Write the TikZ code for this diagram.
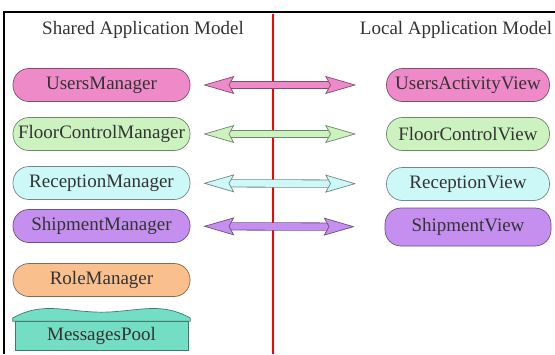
\documentclass[tikz,border=0pt]{standalone}
\usepackage{fontspec}
\setmainfont{Liberation Serif}
\usetikzlibrary{arrows.meta}
\usetikzlibrary{calc}
\definecolor{usercol}{HTML}{EE8AC8}
\definecolor{floorcol}{HTML}{CCF2C0}
\definecolor{recepcol}{HTML}{CCF8F8}
\definecolor{shipcol}{HTML}{C58FF0}
\definecolor{rolecol}{HTML}{F9C08E}
\definecolor{poolcol}{HTML}{74DEC4}
\definecolor{inkcol}{HTML}{333333}
\newcommand\fatlink[3]{%
  \draw[fatshaft,draw=#3!55!black] (#1) -- (#2);
  \draw[fatshaft,line width=6.6pt,draw=#3] (#1) -- (#2);
  \draw[fattips,draw=#3,
    {Stealth[length=31pt,width=18pt,inset=5pt,line width=0.7pt,fill=#3,color=#3!55!black]}-{Stealth[length=31pt,width=18pt,inset=5pt,line width=0.7pt,fill=#3,color=#3!55!black]}]
    (#1) -- (#2);}
\def\leftx{101.5}
\def\rightx{468}

\begin{document}
\begin{tikzpicture}[
    x=1pt,y=-1pt,
    font=\fontsize{19}{22}\selectfont,
    model/.style={
      draw=#1!55!black, fill=#1, text=inkcol, line width=0.7pt,
      rounded corners=16pt, inner sep=0pt
    },
    shared/.style={model=#1, minimum width=177pt, minimum height=33pt},
    local/.style={model=#1, minimum width=163pt, minimum height=33pt},
    fatshaft/.style={
      line width=8.2pt,
      shorten <=34pt, shorten >=51pt
    },
    fattips/.style={
      line width=0.6pt,
      shorten <=13pt, shorten >=30pt
    }
  ]
    \useasboundingbox (0,0) rectangle (555,354);

    % frame and divider
    \draw[line width=1.4pt,black] (555,12) -- (4,12) -- (4,354);
    \draw[line width=1.3pt,red] (273,14) -- (273,354);

    \node[text=inkcol] (SharedTitle) at (143,30) {Shared Application Model};
    \node[text=inkcol] (LocalTitle)  at (456,30) {Local Application Model};

    \node[shared=usercol]  (UsersMgr)    at (\leftx, 85) {UsersManager};
    \node[shared=floorcol] (FloorMgr)    at (\leftx,134) {FloorControlManager};
    \node[shared=recepcol] (ReceptMgr)   at (\leftx,183) {ReceptionManager};
    \node[shared=shipcol]  (ShipMgr)     at (\leftx,226) {ShipmentManager};
    \node[shared=rolecol]  (RoleMgr)     at (\leftx,280) {RoleManager};
    \node[model=poolcol, rounded corners=0pt, minimum width=173pt,
          minimum height=29pt] (MsgPool) at (\leftx,336) {MessagesPool};

    % lid of the pool
    \draw[draw=poolcol!55!black, fill=poolcol, line width=0.7pt]
      ($(MsgPool.north west)+(-2,0)$) -- ++(0,-3)
      to[out=30,in=180] ($(MsgPool.north)+(0,-9)$)
      to[out=0,in=150] ($(MsgPool.north east)+(2,-3)$)
      -- ($(MsgPool.north east)+(2,0)$) -- cycle;

    \node[local=usercol]  (UsersView)   at (\rightx, 85) {UsersActivityView};
    \node[local=floorcol] (FloorView)   at (\rightx,134) {FloorControlView};
    \node[local=recepcol] (ReceptView)  at (\rightx,184) {ReceptionView};
    \node[local=shipcol, minimum width=166pt, minimum height=38pt]
          (ShipView) at (\rightx,227) {ShipmentView};

    \fatlink{UsersMgr}{UsersView}{usercol}
    \fatlink{FloorMgr}{FloorView}{floorcol}
    \fatlink{ReceptMgr}{ReceptView}{recepcol}
    \fatlink{ShipMgr}{ShipView}{shipcol}
\end{tikzpicture}
\end{document}
